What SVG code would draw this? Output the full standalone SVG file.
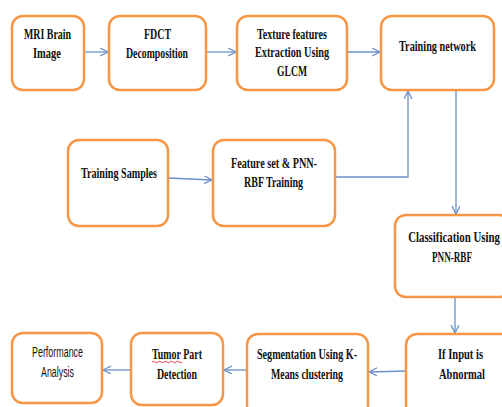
<svg xmlns="http://www.w3.org/2000/svg" width="502" height="407" viewBox="0 0 502 407">
<style>
.box{fill:#fff;stroke:#F79646;stroke-width:2.5}
.t{font-family:"Liberation Serif","Times New Roman",serif;font-weight:bold;font-size:14px;fill:#111;text-anchor:middle}
.s{font-family:"Liberation Sans",Arial,sans-serif;font-size:14px;fill:#111;text-anchor:middle}
.c{fill:none;stroke:#6A92C8;stroke-width:1.3}
</style>
<defs>
<marker id="ah" markerWidth="10" markerHeight="10" refX="8" refY="4" orient="auto" markerUnits="userSpaceOnUse">
<path d="M0,0 L8,4 L0,8" fill="none" stroke="#6A92C8" stroke-width="1.3"/>
</marker>
</defs>
<rect width="502" height="407" fill="#fff"/>
<g id="connectors">
<path class="c" d="M84,52 L108,52" marker-end="url(#ah)"/>
<path class="c" d="M206,52 L236,52" marker-end="url(#ah)"/>
<path class="c" d="M347,52 L380,52" marker-end="url(#ah)"/>
<path class="c" d="M168,178 L212,180" marker-end="url(#ah)"/>
<path class="c" d="M335,177 L408,177 L408,91" marker-end="url(#ah)"/>
<path class="c" d="M456,90 L456,214" marker-end="url(#ah)"/>
<path class="c" d="M455,297 L455,333" marker-end="url(#ah)"/>
<path class="c" d="M406,371 L369,372" marker-end="url(#ah)"/>
<path class="c" d="M247,370 L224,370" marker-end="url(#ah)"/>
<path class="c" d="M131,370 L103,370" marker-end="url(#ah)"/>
</g>
<g id="mri">
<rect class="box" x="12" y="16" width="72" height="74" rx="11"/>
<text class="t" x="47.5" y="39" textLength="47" lengthAdjust="spacingAndGlyphs">MRI Brain</text>
<text class="t" x="47" y="58" textLength="28" lengthAdjust="spacingAndGlyphs">Image</text>
</g>
<g id="fdct">
<rect class="box" x="109" y="16" width="97" height="74" rx="11"/>
<text class="t" x="157.5" y="39" textLength="27" lengthAdjust="spacingAndGlyphs">FDCT</text>
<text class="t" x="157" y="58" textLength="62" lengthAdjust="spacingAndGlyphs">Decomposition</text>
</g>
<g id="texture">
<rect class="box" x="237" y="16" width="110" height="74" rx="11"/>
<text class="t" x="292" y="39" textLength="70" lengthAdjust="spacingAndGlyphs">Texture features</text>
<text class="t" x="292" y="57" textLength="74" lengthAdjust="spacingAndGlyphs">Extraction Using</text>
<text class="t" x="292" y="76" textLength="30" lengthAdjust="spacingAndGlyphs">GLCM</text>
</g>
<g id="training-network">
<rect class="box" x="381" y="16" width="113" height="74" rx="11"/>
<text class="t" transform="translate(437.5,51) scale(0.7,1)" x="0" y="0" textLength="110" lengthAdjust="spacingAndGlyphs">Training network</text>
</g>
<g id="training-samples">
<rect class="box" x="68" y="140" width="100" height="86" rx="11"/>
<text class="t" x="119" y="178" textLength="76" lengthAdjust="spacingAndGlyphs">Training Samples</text>
</g>
<g id="feature-set">
<rect class="box" x="213" y="140" width="122" height="86" rx="11"/>
<text class="t" x="274" y="168" textLength="86" lengthAdjust="spacingAndGlyphs">Feature set &amp; PNN-</text>
<text class="t" x="273.5" y="187" textLength="59" lengthAdjust="spacingAndGlyphs">RBF Training</text>
</g>
<g id="classification">
<rect class="box" x="395" y="215" width="115" height="82" rx="11"/>
<text class="t" transform="translate(454,242) scale(0.7,1)" x="0" y="0" textLength="131" lengthAdjust="spacingAndGlyphs">Classification Using</text>
<text class="t" x="452" y="262" textLength="40" lengthAdjust="spacingAndGlyphs">PNN-RBF</text>
</g>
<g id="if-input">
<rect class="box" x="406" y="334" width="110" height="82" rx="11"/>
<text class="t" x="460.5" y="359" textLength="45" lengthAdjust="spacingAndGlyphs">If Input is</text>
<text class="t" x="462" y="379" textLength="46" lengthAdjust="spacingAndGlyphs">Abnormal</text>
</g>
<g id="segmentation">
<rect class="box" x="247" y="334" width="121" height="82" rx="11"/>
<text class="t" x="307" y="359" textLength="100" lengthAdjust="spacingAndGlyphs">Segmentation Using K-</text>
<text class="t" x="307" y="379" textLength="72" lengthAdjust="spacingAndGlyphs">Means clustering</text>
</g>
<g id="tumor">
<rect class="box" x="131" y="333" width="92" height="72" rx="11"/>
<text class="t" x="177" y="359" textLength="50" lengthAdjust="spacingAndGlyphs">Tumor Part</text>
<text class="t" x="177" y="379" textLength="40" lengthAdjust="spacingAndGlyphs">Detection</text>
<path d="M152,362 q1.5,-1.5 3,0 t3,0 t3,0 t3,0 t3,0 t3,0 t3,0 t3,0 t3,0 t3,0" fill="none" stroke="#E03030" stroke-width="0.9"/>
</g>
<g id="performance">
<rect class="box" x="12" y="333" width="90" height="70" rx="11"/>
<text class="s" x="57.5" y="357" textLength="51" lengthAdjust="spacingAndGlyphs">Performance</text>
<text class="s" x="57.5" y="377" textLength="33" lengthAdjust="spacingAndGlyphs">Analysis</text>
</g>
</svg>
